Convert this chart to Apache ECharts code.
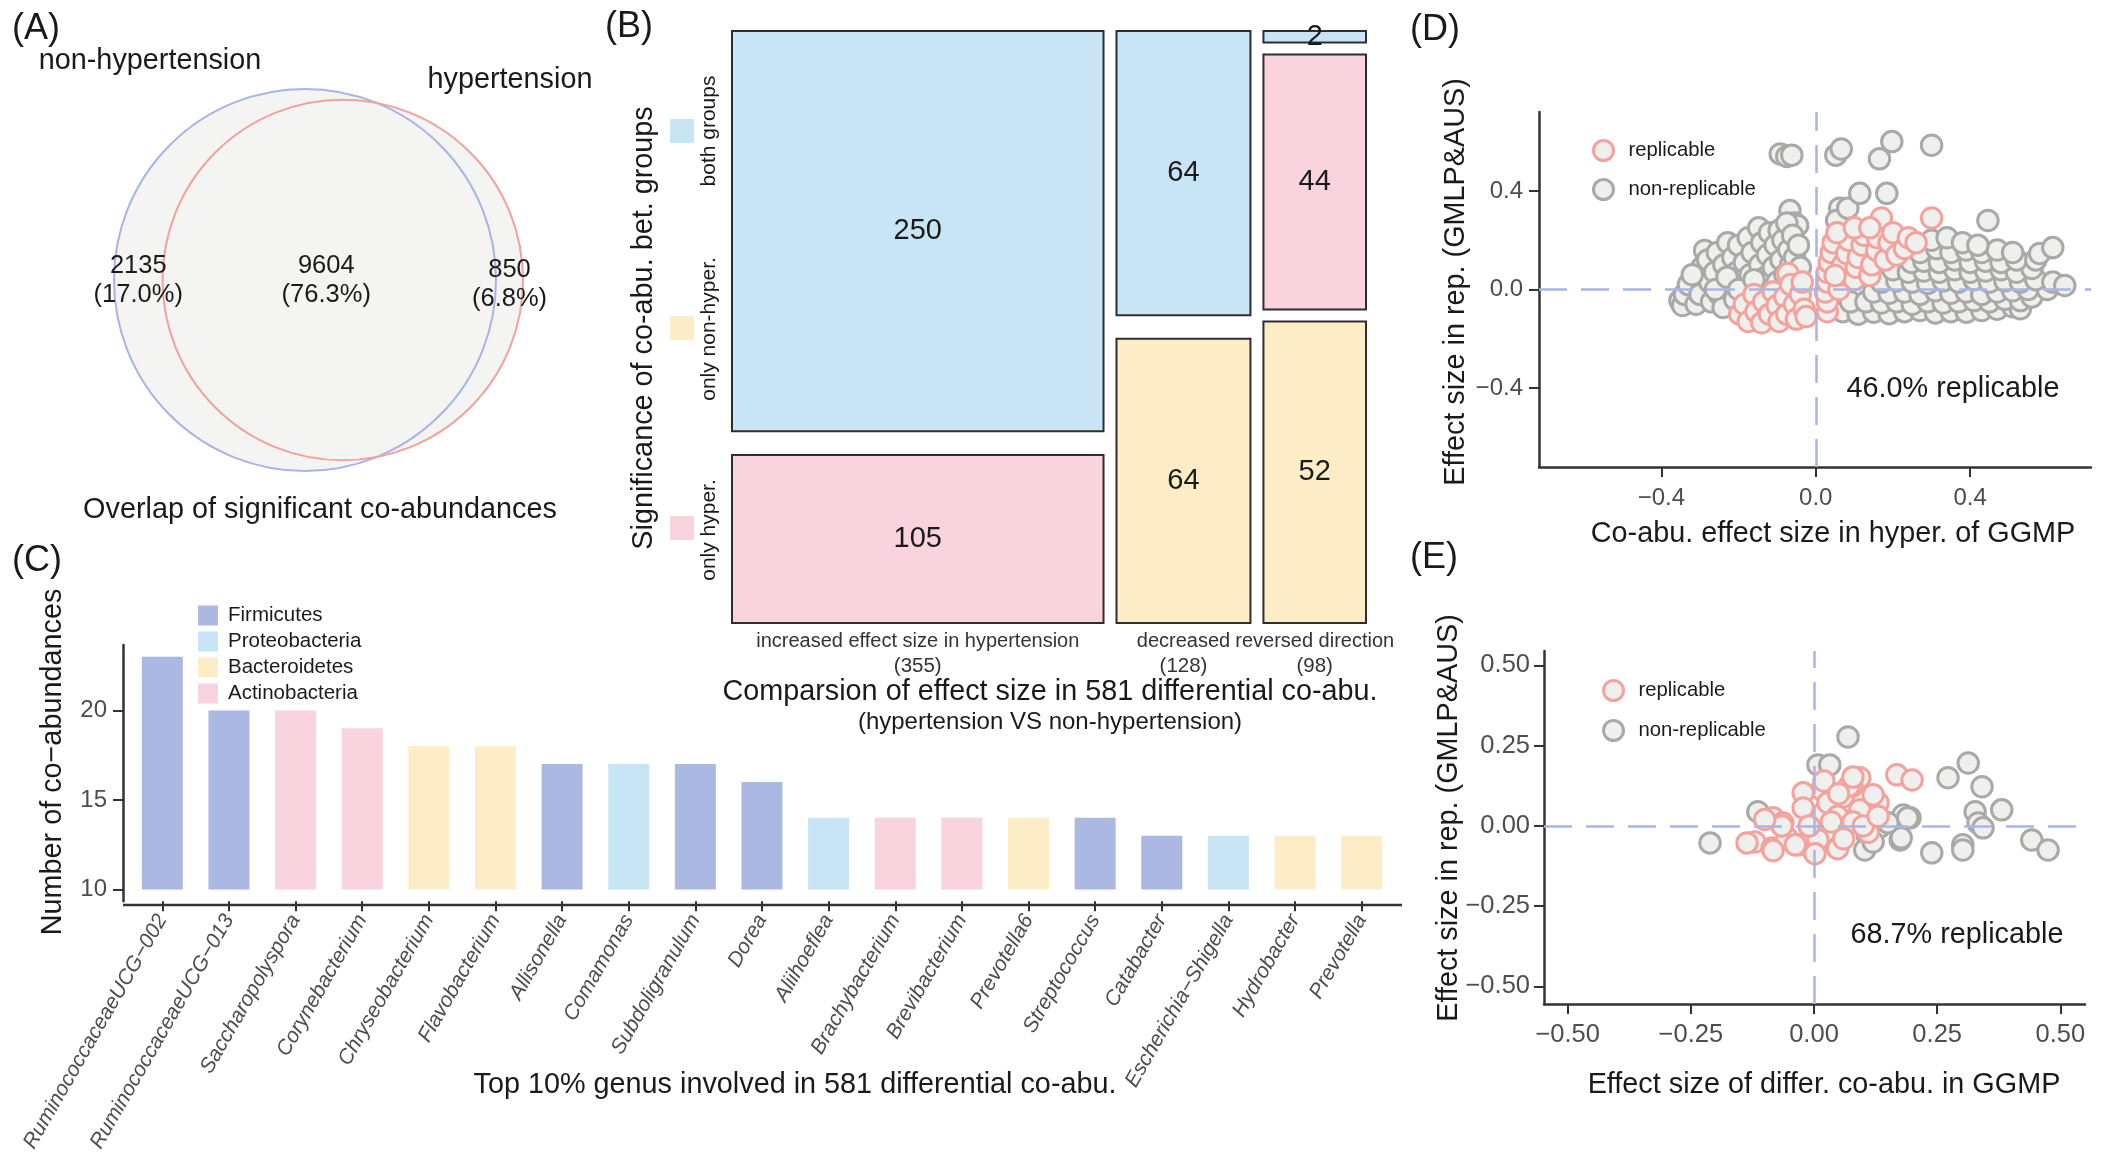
<!DOCTYPE html>
<html><head><meta charset="utf-8">
<script src="https://cdn.jsdelivr.net/npm/echarts/dist/echarts.min.js"></script>
<style>html,body{margin:0;padding:0;background:#fff;}#c{width:2104px;height:1155px;}</style>
</head><body><div id="c"></div>
<script>
// ---------------- DATA ----------------
// (A) Venn
const vennSetNames = ['non-hypertension', 'hypertension'];
const vennCounts = [2135, 9604, 850]; // non-hyper only, both, hyper only

// (B) Mosaic
const mosaicColumnNames = ['increased effect size in hypertension', 'decreased', 'reversed direction'];
const mosaicGroupNames = ['both groups', 'only hyper.', 'only non-hyper.']; // stacking top -> bottom
const mosaicBoth = [250, 64, 2];
const mosaicOnlyHyper = [105, 0, 44];
const mosaicOnlyNonHyper = [0, 64, 52];
const mosaicLegendOrder = ['both groups', 'only non-hyper.', 'only hyper.'];

// (C) Bars
const genusNames = ['RuminococcaceaeUCG\u2212002', 'RuminococcaceaeUCG\u2212013', 'Saccharopolyspora', 'Corynebacterium',
  'Chryseobacterium', 'Flavobacterium', 'Allisonella', 'Comamonas', 'Subdoligranulum', 'Dorea', 'Aliihoeflea',
  'Brachybacterium', 'Brevibacterium', 'Prevotella6', 'Streptococcus', 'Catabacter', 'Escherichia\u2212Shigella',
  'Hydrobacter', 'Prevotella'];
const genusCounts = [23, 20, 20, 19, 18, 18, 17, 17, 17, 16, 14, 14, 14, 14, 14, 13, 13, 13, 13];
const genusPhylum = ['Firmicutes', 'Firmicutes', 'Actinobacteria', 'Actinobacteria', 'Bacteroidetes', 'Bacteroidetes',
  'Firmicutes', 'Proteobacteria', 'Firmicutes', 'Firmicutes', 'Proteobacteria', 'Actinobacteria', 'Actinobacteria',
  'Bacteroidetes', 'Firmicutes', 'Firmicutes', 'Proteobacteria', 'Bacteroidetes', 'Bacteroidetes'];
const phylumNames = ['Firmicutes', 'Proteobacteria', 'Bacteroidetes', 'Actinobacteria'];
const barYTicks = [10, 15, 20];

// (D) scatter: [effect in hyper. GGMP, effect in replication]
const dNonReplicable = [
  [-0.092,0.55],[-0.075,0.54],[-0.062,0.545],[0.052,0.545],[0.066,0.57],[0.165,0.53],[0.197,0.6],[0.3,0.585],
  [-0.067,0.32],[-0.055,0.27],[-0.047,0.26],[0.062,0.33],[0.054,0.28],[0.083,0.33],[0.114,0.39],[0.184,0.39],[0.446,0.28],
  [-0.352,-0.045],[-0.345,-0.065],[-0.34,-0.02],[-0.33,0.02],[-0.31,-0.06],[-0.305,0.05],[-0.3,-0.02],[-0.295,0.09],
  [-0.288,0.158],[-0.28,0.12],[-0.275,0.03],[-0.27,-0.05],[-0.262,0.07],[-0.255,0.15],[-0.25,-0.02],[-0.24,-0.073],
  [-0.238,0.1],[-0.228,0.19],[-0.225,0.03],[-0.215,0.13],[-0.21,-0.04],[-0.205,0.07],[-0.2,0.18],[-0.19,0.02],
  [-0.185,0.11],[-0.175,0.21],[-0.17,0.06],[-0.165,0.15],[-0.155,0.02],[-0.148,0.25],[-0.145,0.1],[-0.14,0.19],
  [-0.13,0.05],[-0.125,0.14],[-0.12,0.23],[-0.11,0.09],[-0.105,0.18],[-0.1,0.03],[-0.095,0.24],[-0.09,0.12],
  [-0.085,0.2],[-0.08,0.06],[-0.075,0.27],[-0.07,0.16],[-0.065,0.1],[-0.06,0.22],[-0.055,0.13],[-0.05,0.05],
  [-0.045,0.18],[-0.04,0.09],[-0.32,0.06],[-0.26,0.0],[-0.23,0.05],[-0.2,0.0],[-0.16,0.04],
  [0.07,-0.09],[0.11,-0.1],[0.15,-0.092],[0.19,-0.098],[0.23,-0.09],[0.27,-0.085],[0.31,-0.095],[0.35,-0.09],
  [0.39,-0.092],[0.43,-0.085],[0.47,-0.08],[0.51,-0.07],[0.53,-0.078],
  [0.09,-0.05],[0.13,-0.05],[0.17,-0.055],[0.21,-0.05],[0.25,-0.06],[0.29,-0.05],[0.33,-0.055],[0.37,-0.05],
  [0.41,-0.045],[0.45,-0.05],[0.49,-0.04],[0.53,-0.045],[0.56,-0.03],
  [0.15,-0.01],[0.19,-0.015],[0.23,-0.01],[0.27,-0.02],[0.31,-0.005],[0.35,-0.015],[0.39,-0.01],[0.43,-0.02],
  [0.47,-0.01],[0.51,-0.005],[0.55,0.0],[0.6,0.0],
  [0.17,0.03],[0.21,0.035],[0.25,0.03],[0.29,0.025],[0.33,0.035],[0.37,0.03],[0.41,0.04],[0.45,0.03],[0.49,0.035],
  [0.53,0.03],[0.57,0.04],[0.614,0.03],[0.645,0.016],
  [0.2,0.08],[0.24,0.07],[0.28,0.075],[0.32,0.07],[0.36,0.08],[0.4,0.07],[0.44,0.075],[0.48,0.08],[0.52,0.07],[0.56,0.085],
  [0.248,0.11],[0.28,0.115],[0.32,0.11],[0.36,0.12],[0.4,0.11],[0.44,0.115],[0.48,0.11],[0.52,0.12],[0.57,0.12],
  [0.27,0.15],[0.313,0.166],[0.35,0.15],[0.39,0.16],[0.43,0.15],[0.47,0.16],[0.51,0.15],[0.58,0.146],[0.614,0.17],
  [0.3,0.2],[0.34,0.21],[0.38,0.19],[0.42,0.18]
];
const dReplicable = [
  [-0.197,-0.1],[-0.185,-0.06],[-0.175,-0.13],[-0.16,-0.02],[-0.155,-0.09],[-0.14,-0.135],[-0.135,-0.05],[-0.12,-0.1],
  [-0.11,-0.01],[-0.1,-0.065],[-0.095,-0.13],[-0.08,-0.03],[-0.075,-0.1],[-0.072,0.065],[-0.065,0.02],[-0.055,-0.06],
  [-0.05,-0.12],[-0.04,-0.02],[-0.035,0.03],[-0.03,-0.08],[-0.025,-0.11],
  [0.03,-0.09],[0.03,-0.05],[0.025,-0.01],[0.03,0.03],[0.03,0.07],[0.035,0.11],[0.04,0.15],[0.045,0.19],[0.06,0.0],
  [0.065,0.06],[0.07,0.1],[0.08,0.146],[0.085,0.2],[0.1,0.04],[0.105,0.09],[0.11,0.13],[0.12,0.18],[0.125,0.22],
  [0.14,0.057],[0.145,0.1],[0.158,0.158],[0.16,0.21],[0.17,0.29],[0.18,0.12],[0.19,0.19],[0.2,0.23],[0.21,0.14],
  [0.23,0.166],[0.24,0.21],[0.26,0.19],[0.3,0.29],[0.05,0.057],[0.055,0.23],[0.1,0.25],[0.14,0.25]
];
const dTicks = [-0.4, 0, 0.4];

// (E) scatter
const eNonReplicable = [
  [0.069,0.277],[0.008,0.19],[0.032,0.19],[-0.114,0.044],[-0.211,-0.053],[0.108,-0.028],[0.103,-0.075],[0.134,-0.003],
  [0.175,-0.044],[0.195,0.025],[0.181,0.034],[0.239,-0.084],[0.272,0.15],[0.313,0.196],[0.341,0.122],[0.327,0.044],
  [0.333,0.009],[0.343,-0.006],[0.381,0.05],[0.302,-0.059],[0.302,-0.075],[0.442,-0.044],[0.475,-0.075],[0.19,0.025],
  [0.177,-0.037],[0.12,-0.05],[0.15,0.01]
];
const eReplicable = [
  [0.168,0.159],[0.199,0.143],[0.093,0.15],[0.077,0.122],[0.016,0.112],[-0.022,0.103],[0.13,0.072],[-0.022,0.056],
  [0.049,0.028],[0.087,0.025],[0.018,0.04],[-0.12,-0.05],[-0.085,-0.069],[-0.032,-0.059],[0.0,-0.044],[0.047,-0.069],
  [0.0,-0.081],[-0.136,-0.053],[-0.055,-0.037],[-0.083,0.025],[-0.063,0.009],[0.093,0.05],[0.12,0.097],[0.059,0.09],
  [0.028,0.072],[0.071,0.124],[0.079,0.152],[0.048,0.03],[0.079,0.012],[0.008,-0.043],[0.048,-0.071],[-0.038,-0.059],
  [-0.083,-0.077],[0.002,-0.087],[0.11,-0.02],[-0.065,0.0],[0.035,0.012],[0.02,0.14],[0.05,0.1],[-0.1,0.02],[0.1,0.0],
  [0.06,-0.04],[-0.01,0.0],[0.13,0.03]
];
const eTicks = [-0.5, -0.25, 0, 0.25, 0.5];

// ---------------- STYLE ----------------
const FONT = 'Liberation Sans, Arial, sans-serif';
const INK = '#1a1a1a', GRAYTXT = '#4d4d4d', AXIS = '#333333';
const C_BLUE = '#c7e5f5', C_PINK = '#f9d3de', C_YELLOW = '#fcedc6', C_FIRM = '#abb8e1';
const phylumColors = { Firmicutes: C_FIRM, Proteobacteria: C_BLUE, Bacteroidetes: C_YELLOW, Actinobacteria: C_PINK };
const groupColors = { 'both groups': C_BLUE, 'only hyper.': C_PINK, 'only non-hyper.': C_YELLOW };
const RED_EDGE = '#f3a39d', GRAY_EDGE = '#a9a9a9', PT_FILL = '#efefed', DASH = '#a8b6e6';
const TITLE_FS = 28.8;

// ---------------- BUILD ----------------
const VENN_CX = 305, VENN_CY = 280, VENN_R_BIG = 191;
function lensArea(r1, r2, d) {
  if (d >= r1 + r2) return 0;
  if (d <= Math.abs(r1 - r2)) return Math.PI * Math.min(r1, r2) ** 2;
  const a1 = r1 * r1 * Math.acos((d * d + r1 * r1 - r2 * r2) / (2 * d * r1));
  const a2 = r2 * r2 * Math.acos((d * d + r2 * r2 - r1 * r1) / (2 * d * r2));
  const a3 = 0.5 * Math.sqrt((-d + r1 + r2) * (d + r1 - r2) * (d - r1 + r2) * (d + r1 + r2));
  return a1 + a2 - a3;
}
function renderVenn(params, api) {
  const a = api.value(0), b = api.value(1), c = api.value(2), tot = a + b + c;
  const K = VENN_R_BIG / Math.sqrt(a + b);
  const r1 = K * Math.sqrt(a + b), r2 = K * Math.sqrt(b + c);
  const target = Math.PI * K * K * b;
  let lo = Math.abs(r1 - r2), hi = r1 + r2;
  for (let i = 0; i < 80; i++) { const m = (lo + hi) / 2; if (lensArea(r1, r2, m) > target) lo = m; else hi = m; }
  const d = (lo + hi) / 2;
  const c1 = [VENN_CX, VENN_CY], c2 = [VENN_CX + d, VENN_CY];
  const p1 = api.coord(c1), p2 = api.coord(c2);
  const R1 = api.size([r1, 0])[0], R2 = api.size([r2, 0])[0];
  const xs = [((c1[0] - r1) + (c2[0] - r2)) / 2, ((c2[0] - r2) + (c1[0] + r1)) / 2, ((c1[0] + r1) + (c2[0] + r2)) / 2];
  const vals = [a, b, c];
  const children = [
    { type: 'circle', shape: { cx: p1[0], cy: p1[1], r: R1 }, style: { fill: '#f4f4f2', stroke: null } },
    { type: 'circle', shape: { cx: p2[0], cy: p2[1], r: R2 }, style: { fill: '#f4f4f2', stroke: null } },
    { type: 'circle', shape: { cx: p1[0], cy: p1[1], r: R1 }, style: { fill: null, stroke: '#a9b4e5', lineWidth: 2 } },
    { type: 'circle', shape: { cx: p2[0], cy: p2[1], r: R2 }, style: { fill: null, stroke: '#f1a29d', lineWidth: 2 } }
  ];
  vals.forEach((v, i) => {
    const p = api.coord([xs[i], VENN_CY]);
    children.push({ type: 'text', x: p[0] - (i === 1 ? 3 : 0), y: p[1] + (i === 2 ? 4 : 0), style: {
      text: v + '\n(' + (100 * v / tot).toFixed(1) + '%)', fontSize: 25.5, fontFamily: FONT, fill: INK,
      align: 'center', verticalAlign: 'middle', lineHeight: 29 } });
  });
  return { type: 'group', children };
}

const MOSAIC_XGAP = 12.4, MOSAIC_YGAP_TOTAL = 0.04;
const mosaicGroupsData = [mosaicBoth, mosaicOnlyHyper, mosaicOnlyNonHyper];
const mosaicCells = [], mosaicCols = [];
let xCursor = 0;
mosaicColumnNames.forEach((name, ci) => {
  const counts = mosaicGroupsData.map(g => g[ci]);
  const total = counts.reduce((s, v) => s + v, 0);
  const nz = counts.filter(v => v > 0).length;
  const gap = nz > 1 ? MOSAIC_YGAP_TOTAL / (nz - 1) : 0;
  const usable = 1 - (nz > 1 ? MOSAIC_YGAP_TOTAL : 0);
  let yCursor = 0;
  counts.forEach((v, gi) => {
    if (v <= 0) return;
    const h = usable * v / total;
    mosaicCells.push([xCursor, xCursor + total, yCursor, yCursor + h, v, gi]);
    yCursor += h + gap;
  });
  mosaicCols.push([xCursor, xCursor + total, total, ci]);
  xCursor += total + MOSAIC_XGAP;
});
const mosaicXMax = xCursor - MOSAIC_XGAP;

function renderMosaic(params, api) {
  const p0 = api.coord([api.value(0), api.value(2)]);
  const p1 = api.coord([api.value(1), api.value(3)]);
  const gname = mosaicGroupNames[api.value(5)];
  return { type: 'group', children: [
    { type: 'rect', shape: { x: p0[0], y: p0[1], width: p1[0] - p0[0], height: p1[1] - p0[1] },
      style: { fill: groupColors[gname], stroke: '#2e2e2e', lineWidth: 2 } },
    { type: 'text', x: (p0[0] + p1[0]) / 2, y: (p0[1] + p1[1]) / 2, z2: 10,
      style: { text: String(api.value(4)), fontSize: 29, fontFamily: FONT, fill: INK, align: 'center', verticalAlign: 'middle' } }
  ] };
}
function renderMosaicCol(params, api) {
  const p = api.coord([(api.value(0) + api.value(1)) / 2, 1]);
  const name = mosaicColumnNames[api.value(3)];
  return { type: 'group', children: [
    { type: 'text', x: p[0], y: p[1] + 18, style: { text: name, fontSize: 20, fontFamily: FONT, fill: '#333', align: 'center', verticalAlign: 'middle' } },
    { type: 'text', x: p[0], y: p[1] + 43, style: { text: '(' + api.value(2) + ')', fontSize: 20.5, fontFamily: FONT, fill: '#333', align: 'center', verticalAlign: 'middle' } }
  ] };
}

const BAR_BASE = 10;
function renderBar(params, api) {
  const top = api.coord([api.value(0), api.value(1)]);
  const base = api.coord([api.value(0), BAR_BASE]);
  const w = api.size([1, 0])[0] * 0.615;
  return { type: 'rect', shape: { x: top[0] - w / 2, y: top[1], width: w, height: base[1] - top[1] },
    style: { fill: api.visual('color') } };
}
const barSeries = phylumNames.map(ph => ({
  type: 'custom', name: ph, xAxisIndex: 2, yAxisIndex: 2, renderItem: renderBar,
  itemStyle: { color: phylumColors[ph] },
  data: genusCounts.map((v, i) => genusPhylum[i] === ph ? [i, v] : null).filter(x => x)
}));

function fmtSigned(dec) { return v => (v < 0 ? '\u2212' : '') + Math.abs(v).toFixed(dec); }
function valAxis(gi, min, max, ticks, dec, fs, margin) {
  return { gridIndex: gi, type: 'value', min, max,
    axisLine: { show: true, onZero: false, lineStyle: { color: AXIS, width: 2.5 } },
    axisTick: { show: true, customValues: ticks, length: 10, lineStyle: { color: AXIS, width: 2 } },
    axisLabel: { show: true, customValues: ticks, formatter: fmtSigned(dec), fontSize: fs, fontFamily: FONT, color: GRAYTXT, margin },
    splitLine: { show: false } };
}
function scatterSeries(name, gi, data, edge, z) {
  return { type: 'scatter', name, xAxisIndex: gi, yAxisIndex: gi, data, symbol: 'circle', symbolSize: 20.5, z,
    itemStyle: { color: PT_FILL, borderColor: edge, borderWidth: 3, opacity: 1 }, silent: true };
}
function dashSeries(gi) {
  return { type: 'scatter', xAxisIndex: gi, yAxisIndex: gi, data: [], z: 10, silent: true,
    markLine: { silent: true, symbol: ['none', 'none'], label: { show: false }, animation: false,
      lineStyle: { type: [28, 14], color: DASH, width: 2.5 }, data: [{ xAxis: 0 }, { yAxis: 0 }] } };
}

function T(x, y, text, size, o) {
  o = o || {};
  return { type: 'text', x, y, rotation: o.rot ? Math.PI / 2 : 0, silent: true, z: 50,
    style: { text, fontSize: size, fontFamily: FONT, fill: o.fill || INK, align: o.align || 'center', verticalAlign: 'middle' } };
}
const graphics = [
  T(12, 29, '(A)', 36, { align: 'left' }),
  T(150, 61, vennSetNames[0], TITLE_FS),
  T(510, 80, vennSetNames[1], TITLE_FS),
  T(320, 510, 'Overlap of significant co-abundances', TITLE_FS),
  T(605, 27, '(B)', 36, { align: 'left' }),
  T(644, 328, 'Significance of co-abu. bet. groups', TITLE_FS, { rot: true }),
  { type: 'rect', shape: { x: 670, y: 119, width: 24, height: 24 }, style: { fill: groupColors[mosaicLegendOrder[0]] } },
  { type: 'rect', shape: { x: 670, y: 316, width: 24, height: 24 }, style: { fill: groupColors[mosaicLegendOrder[1]] } },
  { type: 'rect', shape: { x: 670, y: 516, width: 24, height: 24 }, style: { fill: groupColors[mosaicLegendOrder[2]] } },
  T(709, 131, mosaicLegendOrder[0], 21, { rot: true }),
  T(709, 329, mosaicLegendOrder[1], 21, { rot: true }),
  T(709, 530, mosaicLegendOrder[2], 21, { rot: true }),
  T(1050, 692, 'Comparsion of effect size in 581 differential co-abu.', TITLE_FS),
  T(1050, 722, '(hypertension VS non-hypertension)', 24),
  T(12, 561, '(C)', 36, { align: 'left' }),
  T(53, 762, 'Number of co\u2212abundances', TITLE_FS, { rot: true }),
  T(795, 1085, 'Top 10% genus involved in 581 differential co-abu.', TITLE_FS),
  { type: 'line', shape: { x1: 123, y1: 905, x2: 1402, y2: 905 }, style: { stroke: AXIS, lineWidth: 2.5 } },
  T(1410, 30, '(D)', 36, { align: 'left' }),
  T(1456, 282, 'Effect size in rep. (GMLP&AUS)', TITLE_FS, { rot: true }),
  T(1833, 534, 'Co-abu. effect size in hyper. of GGMP', TITLE_FS),
  T(1953, 389, '46.0% replicable', TITLE_FS),
  T(1410, 558, '(E)', 36, { align: 'left' }),
  T(1449, 818, 'Effect size in rep. (GMLP&AUS)', TITLE_FS, { rot: true }),
  T(1824, 1085, 'Effect size of differ. co-abu. in GGMP', TITLE_FS),
  T(1957, 935, '68.7% replicable', TITLE_FS)
];

function repLegend(left, top, gap) {
  return { left, top, orient: 'vertical', icon: 'circle', itemWidth: 20, itemHeight: 20, itemGap: gap, selectedMode: false,
    textStyle: { fontSize: 20.3, fontFamily: FONT, color: INK, padding: [0, 0, 0, 10] },
    data: [
      { name: 'replicable', itemStyle: { color: PT_FILL, borderColor: RED_EDGE, borderWidth: 3 } },
      { name: 'non-replicable', itemStyle: { color: PT_FILL, borderColor: GRAY_EDGE, borderWidth: 3 } }
    ] };
}

const option = {
  animation: false,
  backgroundColor: '#ffffff',
  textStyle: { fontFamily: FONT },
  grid: [
    { left: 0, top: 0, width: 620, height: 540 },
    { left: 732, top: 31, width: 634, height: 592 },
    { left: 129, top: 645, width: 1266, height: 260 },
    { left: 1539, top: 112, width: 552, height: 355 },
    { left: 1544, top: 651, width: 541, height: 353 }
  ],
  xAxis: [
    { gridIndex: 0, type: 'value', min: 0, max: 620, show: false },
    { gridIndex: 1, type: 'value', min: 0, max: mosaicXMax, show: false },
    { gridIndex: 2, type: 'category', data: genusNames,
      axisLine: { show: false },
      axisTick: { show: true, alignWithLabel: true, length: 10, lineStyle: { color: AXIS, width: 2 } },
      axisLabel: { interval: 0, rotate: 60, fontStyle: 'italic', fontSize: 21, fontFamily: FONT, color: GRAYTXT, margin: 15 } },
    valAxis(3, -0.717, 0.713, dTicks, 1, 24, 19),
    valAxis(4, -0.548, 0.55, eTicks, 2, 25.5, 18)
  ],
  yAxis: [
    { gridIndex: 0, type: 'value', min: 0, max: 540, inverse: true, show: false },
    { gridIndex: 1, type: 'value', min: 0, max: 1, inverse: true, show: false },
    { gridIndex: 2, type: 'value', min: 9.35, max: 23.65, offset: 6,
      axisLine: { show: true, lineStyle: { color: AXIS, width: 2.5 } },
      axisTick: { show: true, customValues: barYTicks, length: 10, lineStyle: { color: AXIS, width: 2 } },
      axisLabel: { customValues: barYTicks, fontSize: 24, fontFamily: FONT, color: GRAYTXT, margin: 16 },
      splitLine: { show: false } },
    valAxis(3, -0.72, 0.72, dTicks, 1, 24, 16),
    valAxis(4, -0.555, 0.545, eTicks, 2, 25.5, 14)
  ],
  legend: [
    { left: 193, top: 600, orient: 'vertical', icon: 'rect', itemWidth: 20, itemHeight: 20, itemGap: 5, selectedMode: false,
      textStyle: { fontSize: 20.5, fontFamily: FONT, color: INK, padding: [0, 0, 0, 5] },
      data: phylumNames.map(p => ({ name: p, itemStyle: { color: phylumColors[p] } })) },
    repLegend(1587, 134, 16),
    repLegend(1597, 674, 17)
  ],
  graphic: graphics,
  series: [
    { type: 'custom', xAxisIndex: 0, yAxisIndex: 0, silent: true, renderItem: renderVenn, data: [vennCounts] },
    { type: 'custom', xAxisIndex: 1, yAxisIndex: 1, silent: true, renderItem: renderMosaic, data: mosaicCells },
    { type: 'custom', xAxisIndex: 1, yAxisIndex: 1, silent: true, renderItem: renderMosaicCol, data: mosaicCols },
    ...barSeries,
    scatterSeries('non-replicable', 3, dNonReplicable, GRAY_EDGE, 2),
    scatterSeries('replicable', 3, dReplicable, RED_EDGE, 3),
    dashSeries(3),
    scatterSeries('non-replicable', 4, eNonReplicable, GRAY_EDGE, 2),
    scatterSeries('replicable', 4, eReplicable, RED_EDGE, 3),
    dashSeries(4)
  ]
};
const chart = echarts.init(document.getElementById('c'), null, { renderer: 'canvas' });
chart.setOption(option);
</script></body></html>
